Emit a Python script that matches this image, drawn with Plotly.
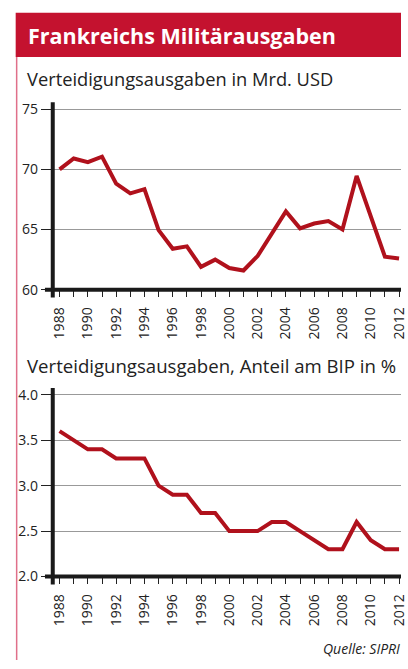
import plotly.graph_objects as go

years = list(range(1988, 2013))
spend_bn_usd = [70.0, 70.9, 70.6, 71.05, 68.8, 68.0, 68.35, 64.95, 63.4, 63.6, 61.9, 62.5,
                61.8, 61.6, 62.8, 64.7, 66.5, 65.1, 65.5, 65.7, 65.0, 69.45, 66.2, 62.75, 62.6]
share_gdp_pct = [3.6, 3.5, 3.4, 3.4, 3.3, 3.3, 3.3, 3.0, 2.9, 2.9, 2.7, 2.7,
                 2.5, 2.5, 2.5, 2.6, 2.6, 2.5, 2.4, 2.3, 2.3, 2.6, 2.4, 2.3, 2.3]
y1_ticks = [60, 65, 70, 75]
y2_ticks = [2.0, 2.5, 3.0, 3.5, 4.0]
y2_labels = ["2.0", "2.5", "3.0", "3.5", "4.0"]

title = "Frankreichs Militärausgaben"
sub1 = "Verteidigungsausgaben in Mrd. USD"
sub2 = "Verteidigungsausgaben, Anteil am BIP in %"
source = "Quelle: SIPRI"

W, H = 408, 669
LINE = "#b0111c"
BANNER = "#c4122f"
FONT = "Open Sans"

def py(p):  # pixel y (from top) -> paper
    return 1 - p / H

fig = go.Figure()
fig.add_trace(go.Scatter(x=years, y=spend_bn_usd, mode="lines", line=dict(color=LINE, width=4),
                         xaxis="x", yaxis="y", hoverinfo="x+y"))
fig.add_trace(go.Scatter(x=years, y=share_gdp_pct, mode="lines", line=dict(color=LINE, width=4),
                         xaxis="x2", yaxis="y2", hoverinfo="x+y"))

xdom = [51 / W, 1]
xr = [1988 - 7 / 14.5, 2012 + 2 / 14.5]
xcommon = dict(domain=xdom, range=xr, tickmode="array", tickvals=years[::2],
               ticktext=[str(y) for y in years[::2]], tickangle=-90,
               ticks="outside", ticklen=6, tickwidth=1, tickcolor="#222",
               minor=dict(tickvals=years, ticks="outside", ticklen=6, tickwidth=1, tickcolor="#222"),
               showgrid=False, showline=False, zeroline=False, ticklabeloverflow="allow",
               ticklabelstandoff=5,
               tickfont=dict(family=FONT, size=14, color="#222"))
ycommon = dict(ticks="outside", ticklen=11, tickwidth=1, tickcolor="#222",
               showgrid=True, gridcolor="#999", gridwidth=1, showline=False, zeroline=False,
               tickfont=dict(family=FONT, size=14, color="#222"))

# chart 1: 60 at y=292, 75 at y=108
ppu1 = (292 - 108) / 15
fig.update_layout(
    xaxis=dict(**xcommon, anchor="y"),
    yaxis=dict(**ycommon, domain=[py(292), py(101)], range=[60, 75 + 7 / ppu1],
               tickvals=y1_ticks, anchor="x"),
)
# chart 2: 2.0 at y=584, 4.0 at y=399
ppu2 = (584 - 399) / 2
fig.update_layout(
    xaxis2=dict(**xcommon, anchor="y2"),
    yaxis2=dict(**ycommon, domain=[py(584), py(392)], range=[2.0, 4.0 + 7 / ppu2],
                tickvals=y2_ticks, ticktext=y2_labels, anchor="x2"),
)

shapes = []
# banner
shapes.append(dict(type="rect", xref="paper", yref="paper", x0=13 / W, x1=1, y0=py(55), y1=py(10),
                   fillcolor=BANNER, line=dict(width=0), layer="below"))
# left pink border
shapes.append(dict(type="line", xref="paper", yref="paper", x0=14 / W, x1=14 / W, y0=0, y1=py(55),
                   line=dict(color="#e0708a", width=1.5)))
# thick axes
for xa, ya, bot, top in [("x", "y", 292, 101), ("x2", "y2", 584, 392)]:
    span = bot - top
    shapes.append(dict(type="line", xref=xa + " domain", yref=ya + " domain", x0=0, x1=0,
                       y0=-8 / span, y1=1, line=dict(color="#1a1a1a", width=4)))
    shapes.append(dict(type="line", xref=xa + " domain", yref=ya + " domain", x0=-8 / (W - 51), x1=1,
                       y0=0, y1=0, line=dict(color="#1a1a1a", width=4)))

annotations = [
    dict(text=f"<b>{title}</b>", xref="paper", yref="paper", x=24 / W, y=py(33), xanchor="left",
         yanchor="middle", showarrow=False, font=dict(family=FONT, size=21.5, color="white")),
    dict(text=sub1, xref="paper", yref="paper", x=23 / W, y=py(77), xanchor="left",
         yanchor="middle", showarrow=False, font=dict(family=FONT, size=18.3, color="#222")),
    dict(text=sub2, xref="paper", yref="paper", x=23 / W, y=py(369), xanchor="left",
         yanchor="middle", showarrow=False, font=dict(family=FONT, size=18.6, color="#222")),
    dict(text=f"<i>{source}</i>", xref="paper", yref="paper", x=326 / W, y=py(657), xanchor="left",
         yanchor="middle", showarrow=False, font=dict(family=FONT, size=14, color="#222")),
]

fig.update_layout(width=W, height=H, margin=dict(l=0, r=0, t=0, b=0), showlegend=False,
                  paper_bgcolor="white", plot_bgcolor="white", shapes=shapes, annotations=annotations)
fig.write_html("out.html", config={"displayModeBar": False},
               post_script="document.body.style.margin='0';document.body.style.overflow='hidden';")
